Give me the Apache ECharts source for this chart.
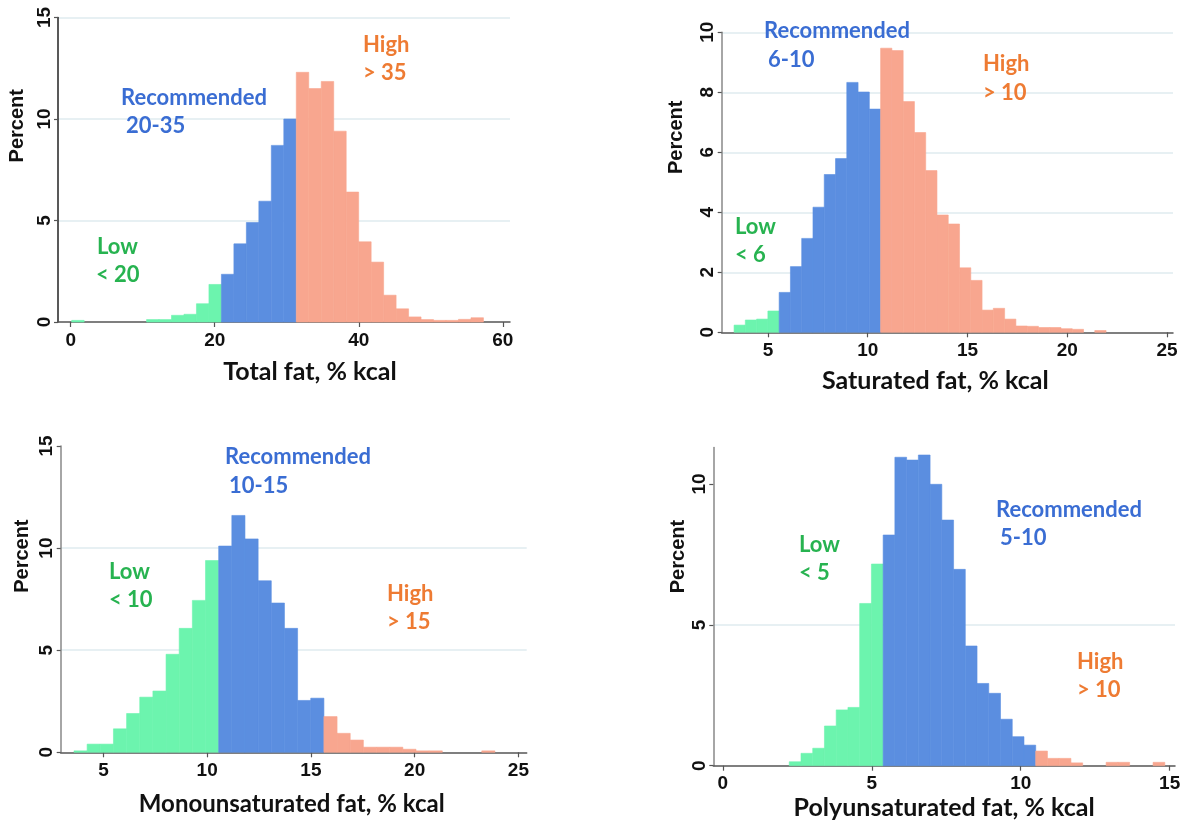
<!DOCTYPE html>
<html><head><meta charset="utf-8">
<script src="https://cdn.jsdelivr.net/npm/echarts@6/dist/echarts.min.js"></script>
<style>html,body{margin:0;padding:0;background:#fff}#c{width:1193px;height:831px}</style>
</head><body><div id="c"></div>
<script>
// ---------- DATA ----------
// Total fat, % kcal
const totalBinStart = 0.14, totalBinWidth = 1.7325;
const totalPct = [0.08,0,0,0,0,0,0.12,0.12,0.33,0.38,0.9,1.85,2.35,3.85,4.9,5.95,8.7,10.0,12.3,11.5,11.85,9.4,6.4,3.95,2.95,1.32,0.65,0.25,0.12,0.08,0.08,0.13,0.21];
const totalBlueFrom = 12, totalOrangeFrom = 18;
const totalXTicks = [0,20,40,60];
const totalYTicks = [0,5,10,15];

// Saturated fat, % kcal
const satBinStart = 3.3, satBinWidth = 0.565;
const satPct = [0.24,0.41,0.44,0.71,1.33,2.19,3.13,4.17,5.26,5.79,8.33,8.01,7.44,9.47,9.39,7.69,6.66,5.39,3.91,3.61,2.15,1.73,0.74,0.8,0.44,0.21,0.2,0.16,0.16,0.12,0.1,0,0.06];
const satBlueFrom = 4, satOrangeFrom = 13;
const satXTicks = [5,10,15,20,25];
const satYTicks = [0,2,4,6,8,10];

// Monounsaturated fat, % kcal
const monoBinStart = 3.58, monoBinWidth = 0.634;
const monoPct = [0.07,0.4,0.4,1.15,1.9,2.7,3.0,4.8,6.07,7.44,9.39,10.1,11.6,10.45,8.4,7.31,6.07,2.54,2.65,1.75,0.93,0.6,0.25,0.25,0.25,0.15,0.07,0.07,0,0,0,0.07];
const monoBlueFrom = 11, monoOrangeFrom = 19;
const monoXTicks = [5,10,15,20,25];
const monoYTicks = [0,5,10,15];

// Polyunsaturated fat, % kcal
const polyBinStart = 2.23, polyBinWidth = 0.394;
const polyPct = [0.14,0.44,0.62,1.41,1.98,2.07,5.76,7.16,8.19,10.95,10.85,11.03,9.99,8.72,6.97,4.25,2.92,2.57,1.65,1.03,0.73,0.52,0.26,0.26,0.1,0,0,0.12,0.12,0,0,0.12];
const polyBlueFrom = 8, polyOrangeFrom = 21;
const polyXTicks = [0,5,10,15];
const polyYTicks = [0,5,10];

// ---------- STYLE ----------
const barColors = ['#6CF4AE', '#5B8EE0', '#F8A68F'];
const txtGreen = '#27B350', txtBlue = '#3A6DD3', txtOrange = '#EE7B33';
const gridLineColor = '#DFEBEF';

function binData(start, width, pct, blueFrom, orangeFrom) {
  return pct.map((v, i) => [start + i * width, start + (i + 1) * width, v, i < blueFrom ? 0 : (i < orangeFrom ? 1 : 2)]);
}
function renderBar(params, api) {
  const v = api.value(2);
  if (!v) return null;
  const p0 = api.coord([api.value(0), v]);
  const p1 = api.coord([api.value(1), 0]);
  const col = barColors[api.value(3)];
  return {type: 'rect', shape: {x: p0[0], y: p0[1], width: p1[0] - p0[0], height: p1[1] - p0[1]},
          style: {fill: col, stroke: col, lineWidth: 0.6}};
}

const panels = [
  {grid: {left: 58, top: 17.5, width: 452, height: 304.5}, xmin: -1.76, xmax: 61, ymax: 15, yint: 5,
   xTicks: totalXTicks, yTicks: totalYTicks, name: 'Total fat, % kcal', xNameGap: 37, xNamePad: [0, 0, 0, 52], xNameSize: 25,
   yNameGap: 31, yNamePad: 88, yAxisColor: '#222', maxLine: true,
   data: binData(totalBinStart, totalBinWidth, totalPct, totalBlueFrom, totalOrangeFrom)},
  {grid: {left: 721.7, top: 32.3, width: 451.3, height: 300}, xmin: 2.68, xmax: 25.3, ymax: 10, yint: 2,
   xTicks: satXTicks, yTicks: satYTicks, name: 'Saturated fat, % kcal', xNameGap: 36, xNamePad: [0, 24, 0, 0], xNameSize: 25,
   yNameGap: 35, yNamePad: 90, yAxisColor: '#888', maxLine: true,
   data: binData(satBinStart, satBinWidth, satPct, satBlueFrom, satOrangeFrom)},
  {grid: {left: 60.7, top: 446, width: 466, height: 306.3}, xmin: 2.94, xmax: 25.4, ymax: 15, yint: 5,
   xTicks: monoXTicks, yTicks: monoYTicks, name: 'Monounsaturated fat, % kcal', xNameGap: 40, xNamePad: [0, 4, 0, 0], xNameSize: 24,
   yNameGap: 28, yNamePad: 86, yAxisColor: '#888', maxLine: false,
   data: binData(monoBinStart, monoBinWidth, monoPct, monoBlueFrom, monoOrangeFrom)},
  {grid: {left: 713.3, top: 447.4, width: 461.7, height: 318.3}, xmin: -0.32, xmax: 15.18, ymax: 11.3, yint: 5,
   xTicks: polyXTicks, yTicks: polyYTicks, name: 'Polyunsaturated fat, % kcal', xNameGap: 30, xNamePad: [0, 0, 0, 0], xNameSize: 25,
   yNameGap: 25, yNamePad: 100, yAxisColor: '#888', maxLine: false,
   data: binData(polyBinStart, polyBinWidth, polyPct, polyBlueFrom, polyOrangeFrom)}
];

const tickFont = {fontFamily: '"Liberation Sans", Arial, sans-serif', fontWeight: 'bold', fontSize: 19, color: '#111'};

const option = {
  backgroundColor: '#fff',
  animation: false,
  grid: panels.map(p => Object.assign({containLabel: false}, p.grid)),
  xAxis: panels.map((p, i) => ({
    type: 'value', gridIndex: i, min: p.xmin, max: p.xmax,
    name: p.name, nameLocation: 'middle', nameGap: p.xNameGap,
    nameTextStyle: {fontFamily: 'Lato, "Open Sans", sans-serif', fontWeight: 'bold', fontSize: p.xNameSize, color: '#111', padding: p.xNamePad},
    axisLine: {onZero: false, lineStyle: {color: '#555', width: 1.5}},
    axisTick: {show: true, length: 5, customValues: p.xTicks, lineStyle: {color: '#555', width: 1.2}},
    axisLabel: Object.assign({customValues: p.xTicks, margin: 9}, tickFont),
    splitLine: {show: false}
  })),
  yAxis: panels.map((p, i) => ({
    type: 'value', gridIndex: i, min: 0, max: p.ymax, interval: p.yint,
    name: 'Percent', nameLocation: 'middle', nameGap: p.yNameGap,
    nameTextStyle: {fontFamily: '"Liberation Sans", Arial, sans-serif', fontWeight: 'bold', fontSize: 20, color: '#111', padding: [0, 0, 0, p.yNamePad]},
    axisLine: {show: true, onZero: false, lineStyle: {color: p.yAxisColor, width: 1.5}},
    axisTick: {show: true, length: 4, customValues: p.yTicks, lineStyle: {color: '#555', width: 1.2}},
    axisLabel: Object.assign({customValues: p.yTicks, rotate: 90, margin: 4}, tickFont),
    splitLine: {show: true, showMinLine: false, showMaxLine: p.maxLine, lineStyle: {color: gridLineColor, width: 1.5}}
  })),
  series: panels.map((p, i) => ({
    type: 'custom', xAxisIndex: i, yAxisIndex: i, renderItem: renderBar,
    encode: {x: [0, 1], y: 2}, data: p.data, z: 3
  })),
  graphic: []
};

function note(x, y, text, color) {
  return {type: 'text', left: x, top: y - 13, z: 10,
    style: {text: text, fill: color, font: 'bold 22px Lato, "Open Sans", sans-serif'}};
}
option.graphic = [
  note(363, 47, 'High', txtOrange), note(363, 75, '> 35', txtOrange),
  note(121, 100, 'Recommended', txtBlue), note(126, 128, '20-35', txtBlue),
  note(97, 249, 'Low', txtGreen), note(96, 277, '< 20', txtGreen),

  note(764, 33, 'Recommended', txtBlue), note(768, 62, '6-10', txtBlue),
  note(983, 66, 'High', txtOrange), note(983, 95, '> 10', txtOrange),
  note(735, 229, 'Low', txtGreen), note(735, 257, '< 6', txtGreen),

  note(225, 459, 'Recommended', txtBlue), note(229, 488, '10-15', txtBlue),
  note(109, 574, 'Low', txtGreen), note(109, 602, '< 10', txtGreen),
  note(387, 596, 'High', txtOrange), note(387, 624, '> 15', txtOrange),

  note(996, 512, 'Recommended', txtBlue), note(1000, 540, '5-10', txtBlue),
  note(799, 547, 'Low', txtGreen), note(799, 575, '< 5', txtGreen),
  note(1077, 664, 'High', txtOrange), note(1077, 692, '> 10', txtOrange)
];

const chart = echarts.init(document.getElementById('c'), null, {renderer: 'canvas'});
chart.setOption(option);
</script>
</body></html>
